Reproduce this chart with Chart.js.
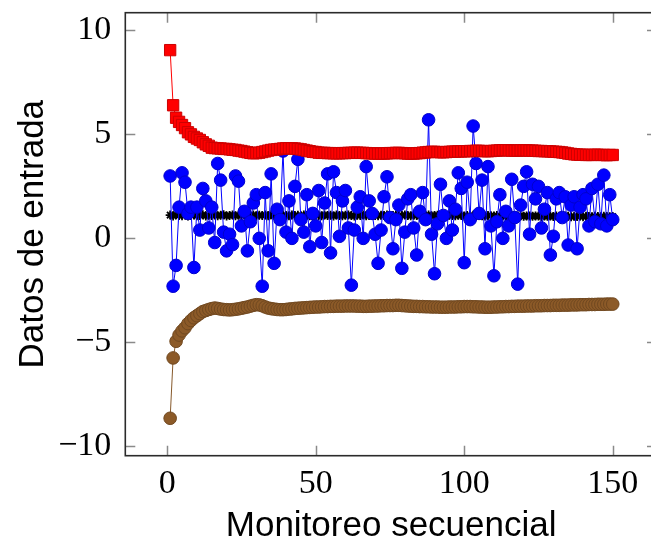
<!DOCTYPE html>
<html>
<head>
<meta charset="utf-8">
<script src="https://cdn.jsdelivr.net/npm/chart.js@4.4.1/dist/chart.umd.min.js"></script>
<style>
  html, body { margin: 0; padding: 0; background: #fff; overflow: hidden; }
  #wrap { width: 651px; height: 542px; overflow: hidden; }
</style>
</head>
<body>
<div id="wrap"><canvas id="chart" width="680" height="542"></canvas></div>
<script>
// Valores (x = 1..150)
const rojo = [
  9.05, 6.4, 5.8, 5.6, 5.45, 5.3, 5.1, 5.0, 4.88, 4.8,
  4.73, 4.62, 4.52, 4.45, 4.36, 4.34, 4.33, 4.32, 4.3, 4.3,
  4.28, 4.26, 4.25, 4.22, 4.2, 4.17, 4.14, 4.11, 4.09, 4.1,
  4.12, 4.15, 4.18, 4.22, 4.25, 4.27, 4.28, 4.3, 4.32, 4.33,
  4.33, 4.33, 4.32, 4.3, 4.28, 4.25, 4.22, 4.19, 4.16, 4.15,
  4.12, 4.11, 4.11, 4.1, 4.1, 4.09, 4.09, 4.09, 4.1, 4.1,
  4.11, 4.11, 4.12, 4.12, 4.11, 4.11, 4.1, 4.09, 4.09, 4.08,
  4.08, 4.08, 4.08, 4.09, 4.1, 4.1, 4.11, 4.11, 4.1, 4.09,
  4.08, 4.08, 4.08, 4.09, 4.1, 4.12, 4.13, 4.15, 4.16, 4.16,
  4.15, 4.14, 4.14, 4.15, 4.16, 4.17, 4.17, 4.18, 4.18, 4.19,
  4.19, 4.2, 4.2, 4.21, 4.21, 4.2, 4.19, 4.19, 4.2, 4.21,
  4.22, 4.23, 4.24, 4.24, 4.23, 4.22, 4.22, 4.22, 4.23, 4.23,
  4.23, 4.22, 4.22, 4.21, 4.2, 4.2, 4.19, 4.19, 4.18, 4.17,
  4.16, 4.15, 4.13, 4.11, 4.08, 4.06, 4.04, 4.03, 4.02, 4.02,
  4.01, 4.01, 4.01, 4.02, 4.02, 4.01, 4.01, 4.0, 4.01, 4.01
];

const azul = [
  3.0, -2.3, -1.3, 1.5, 3.15, 2.7, 1.2, 1.5, -1.4, 1.5,
  0.4, 2.4, 1.8, 0.5, 1.5, -0.2, 3.6, 2.8, 0.3, -0.6,
  0.2, -0.3, 3.0, 2.75, 0.6, 1.3, -0.6, 0.8, 1.7, 2.1,
  0.0, -2.3, 2.2, -0.6, 3.1, -1.2, 1.4, 0.9, 4.2, 0.3,
  1.8, 0.0, 2.5, 3.8, 0.9, 0.3, 2.1, -0.4, 1.2, 0.6,
  2.3, -0.2, 1.7, 3.1, -0.7, 3.2, 2.2, 0.1, 1.8, 2.3,
  0.5, -2.25, 0.4, 1.5, 2.0, 0.0, 3.45, 1.8, 1.2, 0.2,
  -1.2, 0.4, 2.0, 2.96, 1.0, -0.5, 0.9, 1.6, -1.44, 0.3,
  1.9, 2.1, 0.5, -0.8, 1.3, 2.2, 0.9, 5.7, 0.2, -1.7,
  0.7, 2.6, 1.1, 0.0, 1.8, 0.4, 1.4, 3.15, 2.4, -1.17,
  2.7, 0.9, 5.4, 3.6, 1.2, 2.8, -0.5, 3.45, 0.6, -1.8,
  0.8, 2.1, 0.0, 1.3, 0.6, 2.84, 1.0, -2.2, 1.6, 2.5,
  3.2, 0.2, 2.6, 1.9, 2.5, 0.5, 1.4, 2.2, -0.8, 0.1,
  1.9, 2.2, 1.0, 2.0, -0.32, 1.6, 2.0, -0.5, 1.5, 2.1,
  1.9, 0.6, 2.4, 0.8, 2.6, 0.7, 3.04, 0.6, 2.1, 0.9
];

const negro = [
  1.12, 1.08, 1.13, 1.1, 1.09, 1.14, 1.07, 1.11, 1.12, 1.09,
  1.1, 1.13, 1.08, 1.11, 1.1, 1.12, 1.09, 1.11, 1.13, 1.08,
  1.1, 1.12, 1.09, 1.11, 1.1, 1.13, 1.08, 1.1, 1.12, 1.09,
  1.11, 1.1, 1.12, 1.09, 1.13, 1.1, 1.08, 1.11, 1.12, 1.1,
  1.09, 1.12, 1.1, 1.11, 1.08, 1.12, 1.1, 1.09, 1.11, 1.12,
  1.1, 1.09, 1.12, 1.1, 1.11, 1.08, 1.12, 1.1, 1.09, 1.11,
  1.12, 1.1, 1.08, 1.11, 1.1, 1.12, 1.09, 1.1, 1.11, 1.1,
  1.09, 1.11, 1.1, 1.12, 1.08, 1.1, 1.11, 1.09, 1.1, 1.12,
  1.1, 1.09, 1.11, 1.1, 1.08, 1.11, 1.1, 1.12, 1.09, 1.1,
  1.11, 1.09, 1.1, 1.08, 1.11, 1.1, 1.09, 1.11, 1.1, 1.08,
  1.1, 1.09, 1.11, 1.08, 1.1, 1.09, 1.07, 1.1, 1.09, 1.08,
  1.1, 1.07, 1.09, 1.08, 1.06, 1.09, 1.08, 1.07, 1.09, 1.06,
  1.08, 1.07, 1.06, 1.08, 1.07, 1.05, 1.08, 1.06, 1.07, 1.05,
  1.07, 1.06, 1.05, 1.07, 1.06, 1.04, 1.06, 1.05, 1.07, 1.04,
  1.06, 1.05, 1.04, 1.06, 1.05, 1.04, 1.06, 1.05, 1.04, 1.05
];

const marron = [
  -8.65, -5.75, -4.95, -4.65, -4.45, -4.3, -4.1, -3.95, -3.82, -3.72,
  -3.62, -3.52, -3.47, -3.42, -3.38, -3.35, -3.37, -3.4, -3.42, -3.43,
  -3.44, -3.43, -3.41, -3.39, -3.36, -3.33, -3.3, -3.26, -3.22, -3.19,
  -3.2, -3.24, -3.3, -3.35, -3.38, -3.4, -3.42, -3.43, -3.43, -3.42,
  -3.4, -3.39, -3.37, -3.36, -3.35, -3.34, -3.33, -3.32, -3.31, -3.3,
  -3.3, -3.29, -3.28, -3.28, -3.27, -3.27, -3.26, -3.26, -3.26, -3.25,
  -3.25, -3.25, -3.25, -3.26, -3.26, -3.27, -3.27, -3.26, -3.26, -3.25,
  -3.25, -3.24, -3.24, -3.23, -3.23, -3.23, -3.22, -3.22, -3.23, -3.24,
  -3.25, -3.26, -3.27, -3.27, -3.28, -3.28, -3.29, -3.29, -3.3, -3.3,
  -3.3, -3.31, -3.31, -3.31, -3.3, -3.3, -3.3, -3.29, -3.29, -3.28,
  -3.28, -3.28, -3.29, -3.29, -3.3, -3.3, -3.31, -3.31, -3.31, -3.3,
  -3.3, -3.29, -3.29, -3.28, -3.28, -3.27, -3.27, -3.26, -3.26, -3.26,
  -3.25, -3.25, -3.25, -3.24, -3.24, -3.24, -3.23, -3.23, -3.23, -3.22,
  -3.22, -3.22, -3.21, -3.21, -3.21, -3.2, -3.2, -3.2, -3.19, -3.19,
  -3.19, -3.18, -3.18, -3.18, -3.17, -3.17, -3.17, -3.16, -3.16, -3.16
];

const xTicks = [0, 50, 100, 150];
const yTicks = [-10, -5, 0, 5, 10];

function puntos(valores) {
  return valores.map((v, i) => ({ x: i + 1, y: v }));
}

// caja con marcas hacia dentro, estilo pgfplots
const cajaPlugin = {
  id: 'caja',
  afterDraw(chart) {
    const ctx = chart.ctx;
    const a = chart.chartArea;
    const sx = chart.scales.x, sy = chart.scales.y;
    ctx.save();
    ctx.strokeStyle = '#8a8a8a';
    ctx.lineWidth = 1.5;
    ctx.beginPath();
    xTicks.forEach(t => {
      const px = Math.round(sx.getPixelForValue(t)) + 0.5;
      ctx.moveTo(px, a.bottom); ctx.lineTo(px, a.bottom - 10);
      ctx.moveTo(px, a.top); ctx.lineTo(px, a.top + 10);
    });
    yTicks.forEach(t => {
      const py = Math.round(sy.getPixelForValue(t)) + 0.5;
      ctx.moveTo(a.left, py); ctx.lineTo(a.left + 10, py);
      ctx.moveTo(a.right, py); ctx.lineTo(a.right - 10, py);
    });
    ctx.stroke();
    ctx.strokeStyle = '#2b2b2b';
    ctx.lineWidth = 1.6;
    ctx.strokeRect(a.left, a.top, a.right - a.left, a.bottom - a.top);
    ctx.restore();
  }
};

const serif = { family: '"Liberation Serif", serif', size: 34 };
const sans = { family: '"Liberation Sans", sans-serif', size: 35 };

new Chart(document.getElementById('chart'), {
  type: 'scatter',
  data: {
    datasets: [
      {
        data: puntos(rojo),
        showLine: true,
        borderColor: '#ff0000',
        borderWidth: 1,
        pointStyle: 'rect',
        pointRadius: 8,
        pointBackgroundColor: '#ff0000',
        pointBorderColor: '#cc0000',
        pointBorderWidth: 1
      },
      {
        data: puntos(azul),
        showLine: true,
        borderColor: '#0000ff',
        borderWidth: 1,
        pointStyle: 'circle',
        pointRadius: 6.3,
        pointBackgroundColor: '#0000ff',
        pointBorderColor: '#0000cc',
        pointBorderWidth: 1
      },
      {
        data: puntos(negro),
        showLine: true,
        borderColor: '#000000',
        borderWidth: 2,
        pointStyle: 'star',
        pointRadius: 4.5,
        pointBackgroundColor: '#000000',
        pointBorderColor: '#000000',
        pointBorderWidth: 1.8
      },
      {
        data: puntos(marron),
        showLine: true,
        borderColor: '#86592b',
        borderWidth: 1,
        pointStyle: 'circle',
        pointRadius: 6.3,
        pointBackgroundColor: '#8c5a28',
        pointBorderColor: '#704820',
        pointBorderWidth: 1
      }
    ]
  },
  options: {
    responsive: false,
    animation: false,
    events: [],
    layout: { padding: { left: 0, top: 12.7, right: 23, bottom: 0 } },
    plugins: { legend: { display: false }, tooltip: { enabled: false } },
    scales: {
      x: {
        type: 'linear',
        min: -14.1,
        max: 164.9,
        grid: { display: false, drawTicks: false },
        border: { display: false },
        afterFit(scale) {
          scale.height = 86.3;
          scale.paddingLeft = 0;
          scale.paddingRight = 0;
        },
        afterBuildTicks(scale) { scale.ticks = xTicks.map(v => ({ value: v })); },
        ticks: { font: serif, color: '#000', padding: 8, maxRotation: 0 },
        title: {
          display: true,
          text: 'Monitoreo secuencial',
          font: sans,
          color: '#000',
          padding: { top: 0, bottom: -5 }
        }
      },
      y: {
        type: 'linear',
        min: -10.45,
        max: 10.85,
        grid: { display: false, drawTicks: false },
        border: { display: false },
        afterFit(scale) {
          scale.width = 125.3;
          scale.paddingTop = 0;
          scale.paddingBottom = 0;
        },
        afterBuildTicks(scale) { scale.ticks = yTicks.map(v => ({ value: v })); },
        ticks: {
          font: serif,
          color: '#000',
          padding: 14,
          callback: v => (v < 0 ? '\u2212' + Math.abs(v) : String(v))
        },
        title: {
          display: true,
          text: 'Datos de entrada',
          font: sans,
          color: '#000',
          padding: { top: 12, bottom: 0 }
        }
      }
    }
  },
  plugins: [cajaPlugin]
});
</script>
</body>
</html>
